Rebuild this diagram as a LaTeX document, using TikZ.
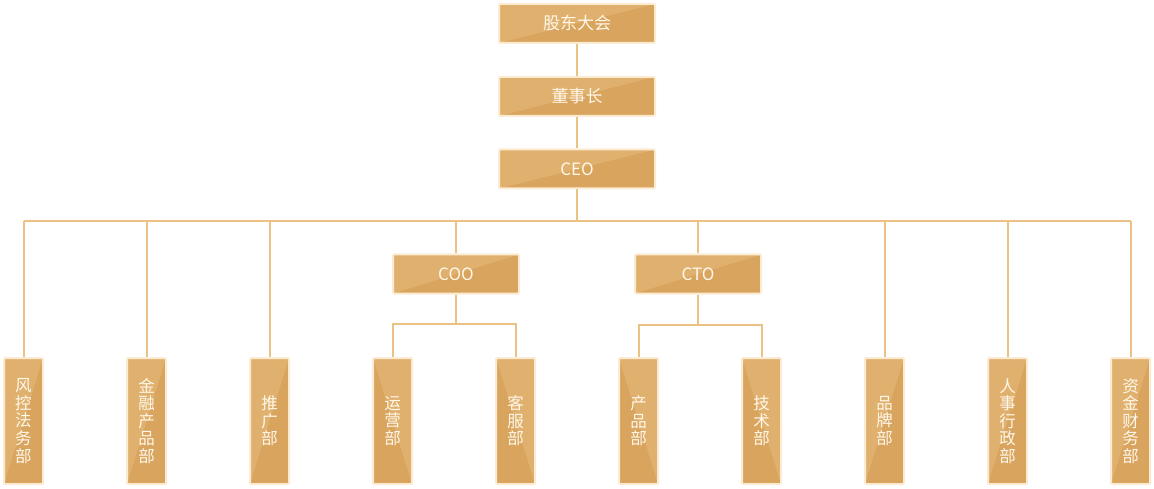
\documentclass[tikz,border=0pt]{standalone}
\usepackage{fontspec}
\setmainfont{Noto Sans CJK SC}
\definecolor{boxdark}{HTML}{D8A45E}
\definecolor{boxlight}{HTML}{E0B16E}
\definecolor{boxedge}{HTML}{FCEBD3}
\definecolor{linkc}{HTML}{EBC283}
\definecolor{txtc}{HTML}{FFF7EA}
\tikzset{
  basebox/.style={draw=boxedge, line width=2pt, fill=boxdark, inner sep=0pt,
    text=txtc, rounded corners=1pt},
  shadeA/.style={path picture={\fill[boxlight] (path picture bounding box.north west) -- (path picture bounding box.north east) -- (path picture bounding box.south west) -- cycle;}},
  shadeB/.style={path picture={\fill[boxlight] (path picture bounding box.north west) -- (path picture bounding box.north east) -- (path picture bounding box.south east) -- cycle;}},
  hbox/.style={basebox, shadeA, minimum width=156pt, minimum height=39pt, font=\fontsize{17}{19}\selectfont},
  mbox/.style={basebox, shadeA, minimum width=126pt, minimum height=39pt, font=\fontsize{17}{19}\selectfont},
  vbox/.style={basebox, shadeA, minimum width=39pt, minimum height=126pt, align=center, font=\fontsize{16.5}{17.6}\selectfont},
  vboxb/.style={vbox, shadeB},
  link/.style={draw=linkc, line width=2pt}
}
\begin{document}
\begin{tikzpicture}[x=1pt,y=-1pt]
\useasboundingbox (0,0) rectangle (1154,489);
\coordinate (bus) at (577,221);
\coordinate (coob) at (456,324);
\coordinate (ctob) at (698,325);
\node[hbox] (gd) at (577,23.5) {股东大会};
\node[hbox] (dsz) at (577,96.5) {董事长};
\node[hbox] (ceo) at (577,169) {CEO};
\node[mbox] (coo) at (456,274) {COO};
\node[mbox] (cto) at (698,274) {CTO};
\node[vbox] (v1) at (23.5,421) {风\\控\\法\\务\\部};
\node[vbox] (v2) at (146.5,421) {金\\融\\产\\品\\部};
\node[vbox] (v3) at (269.5,421) {推\\广\\部};
\node[vboxb] (v4) at (392.5,421) {运\\营\\部};
\node[vboxb] (v5) at (515.5,421) {客\\服\\部};
\node[vboxb] (v6) at (638.5,421) {产\\品\\部};
\node[vboxb] (v7) at (761.5,421) {技\\术\\部};
\node[vbox] (v8) at (884.5,421) {品\\牌\\部};
\node[vbox] (v9) at (1007.5,421) {人\\事\\行\\政\\部};
\node[vbox] (v10) at (1130.5,421) {资\\金\\财\\务\\部};
\draw[link] (gd.south) -- (dsz.north);
\draw[link] (dsz.south) -- (ceo.north);
\draw[link] (ceo.south) -- (bus);
\draw[link] (v1.north |- bus) -- (v10.north |- bus);
\foreach \v in {v1,v2,v3,v8,v9,v10}{
  \draw[link] (\v.north) -- (\v.north |- bus);
}
\draw[link] (coo.north) -- (coo.north |- bus);
\draw[link] (cto.north) -- (cto.north |- bus);
\draw[link] (coo.south) -- (coob);
\draw[link] (v4.north) |- (coob) -| (v5.north);
\draw[link] (cto.south) -- (ctob);
\draw[link] (v6.north) |- (ctob) -| (v7.north);
\end{tikzpicture}
\end{document}
